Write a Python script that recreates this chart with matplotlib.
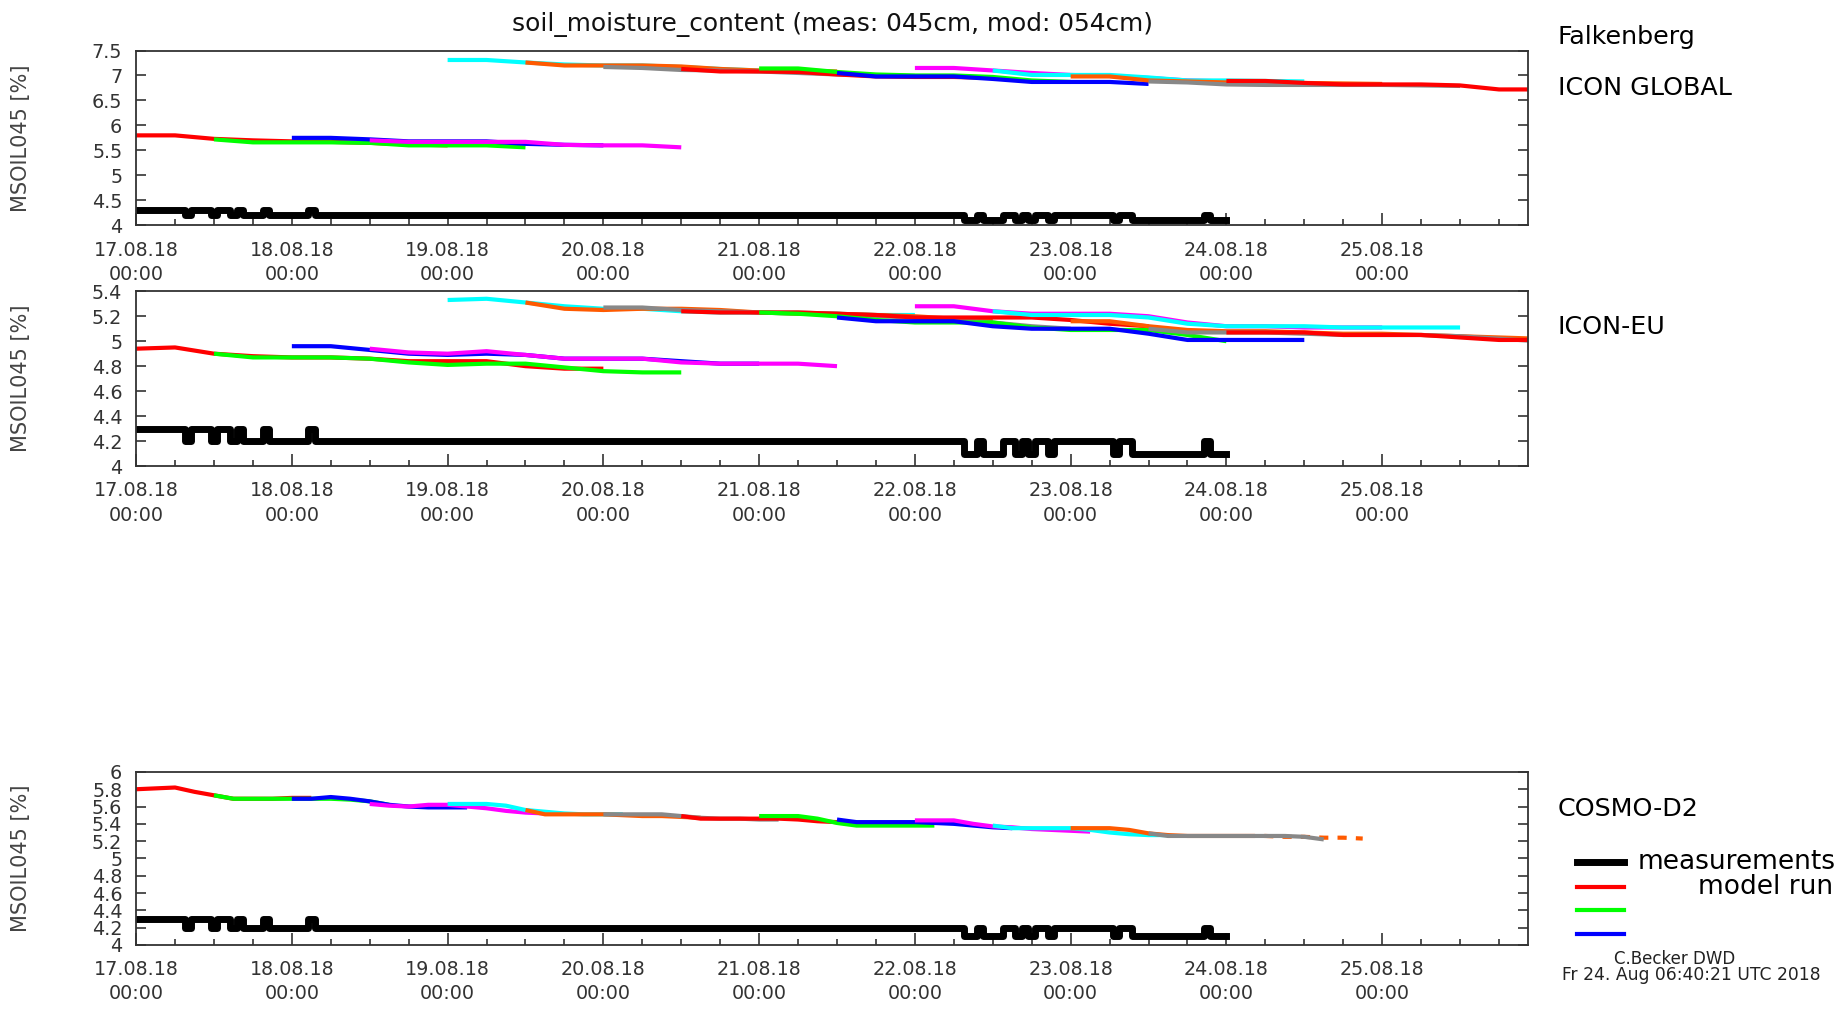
import matplotlib
matplotlib.use("Agg")
import matplotlib.pyplot as plt
from matplotlib.lines import Line2D
from matplotlib.ticker import MultipleLocator, FuncFormatter
import numpy as np
from datetime import datetime, timedelta

START = datetime(2018, 8, 17)
XMAX = 214.5  # hours after START shown on the time axis

# soil moisture measured at 45 cm, hourly values run-length encoded
meas_level = [4.3, 4.2, 4.3, 4.2, 4.3, 4.2, 4.3, 4.2, 4.3, 4.2, 4.3, 4.2,
              4.1, 4.2, 4.1, 4.2, 4.1, 4.2, 4.1, 4.2, 4.1, 4.2,
              4.1, 4.2, 4.1, 4.2, 4.1]
meas_hours = [8, 1, 3, 1, 2, 1, 1, 3, 1, 6, 1, 100,
              2, 1, 3, 2, 1, 1, 1, 2, 1, 9,
              1, 2, 11, 1, 3]

# model runs, one every 12 h; colours cycle through the run palette
run_colors = ["#ff0000", "#00ff00", "#0000ff", "#ff00ff", "#00ffff", "#ff5a00", "#888888"]

# ICON GLOBAL, 6-hourly values
glb_start = [0, 12, 24, 36, 48, 60, 72, 84, 96, 108, 120, 132, 144, 156, 168]
glb_step = 6
glb_vals = [
    [5.80, 5.80, 5.73, 5.70, 5.68, 5.67, 5.65, 5.62, 5.60],
    [5.72, 5.66, 5.66, 5.66, 5.65, 5.60, 5.60, 5.60, 5.56],
    [5.75, 5.75, 5.72, 5.68, 5.68, 5.68, 5.63, 5.61, 5.60],
    [5.70, 5.67, 5.67, 5.67, 5.67, 5.61, 5.60, 5.60, 5.56],
    [7.31, 7.31, 7.26, 7.22, 7.20, 7.20, 7.17, 7.13, 7.10],
    [7.26, 7.20, 7.20, 7.20, 7.18, 7.13, 7.10, 7.10, 7.08],
    [7.17, 7.15, 7.11, 7.10, 7.08, 7.05, 7.02, 7.00, 6.99],
    [7.13, 7.08, 7.08, 7.07, 7.02, 6.98, 6.97, 6.97, 6.95],
    [7.14, 7.14, 7.07, 7.02, 7.00, 7.00, 6.97, 6.90, 6.87],
    [7.05, 6.98, 6.98, 6.98, 6.93, 6.87, 6.87, 6.87, 6.83],
    [7.15, 7.15, 7.10, 7.05, 7.01, 6.99, 6.95, 6.90, 6.88],
    [7.10, 7.01, 7.01, 7.01, 6.96, 6.90, 6.90, 6.89, 6.88],
    [6.98, 6.98, 6.90, 6.88, 6.86, 6.85, 6.85, 6.84, 6.83],
    [6.88, 6.86, 6.82, 6.81, 6.81, 6.81, 6.81, 6.80, 6.79],
    [6.89, 6.89, 6.85, 6.82, 6.82, 6.82, 6.80, 6.72, 6.72],
]

# ICON-EU, 6-hourly values
eu_start = [0, 12, 24, 36, 48, 60, 72, 84, 96, 108, 120, 132, 144, 156, 168]
eu_step = 6
eu_vals = [
    [4.94, 4.95, 4.90, 4.88, 4.87, 4.87, 4.86, 4.84, 4.84, 4.84, 4.80, 4.78, 4.78],
    [4.90, 4.87, 4.87, 4.87, 4.86, 4.83, 4.81, 4.82, 4.82, 4.79, 4.76, 4.75, 4.75],
    [4.96, 4.96, 4.93, 4.90, 4.89, 4.90, 4.89, 4.86, 4.86, 4.86, 4.84, 4.82, 4.82],
    [4.94, 4.91, 4.90, 4.92, 4.89, 4.86, 4.86, 4.86, 4.83, 4.82, 4.82, 4.82, 4.80],
    [5.33, 5.34, 5.31, 5.28, 5.26, 5.26, 5.24, 5.23, 5.23, 5.22, 5.22, 5.21, 5.21],
    [5.31, 5.26, 5.25, 5.26, 5.26, 5.25, 5.23, 5.22, 5.22, 5.21, 5.20, 5.18, 5.17],
    [5.27, 5.27, 5.25, 5.24, 5.23, 5.23, 5.22, 5.20, 5.19, 5.17, 5.15, 5.12, 5.10],
    [5.24, 5.23, 5.23, 5.23, 5.22, 5.21, 5.19, 5.19, 5.19, 5.19, 5.17, 5.14, 5.12],
    [5.23, 5.22, 5.20, 5.17, 5.15, 5.15, 5.15, 5.11, 5.09, 5.09, 5.09, 5.05, 5.00],
    [5.19, 5.16, 5.16, 5.16, 5.12, 5.10, 5.10, 5.10, 5.06, 5.01, 5.01, 5.01, 5.01],
    [5.28, 5.28, 5.24, 5.22, 5.22, 5.22, 5.20, 5.15, 5.12, 5.12, 5.11, 5.11, 5.11],
    [5.24, 5.21, 5.21, 5.21, 5.19, 5.14, 5.12, 5.12, 5.12, 5.11, 5.11, 5.11, 5.11],
    [5.16, 5.16, 5.12, 5.09, 5.08, 5.08, 5.07, 5.06, 5.06, 5.05, 5.04, 5.03, 5.02],
    [5.10, 5.07, 5.07, 5.07, 5.06, 5.05, 5.05, 5.05, 5.04, 5.02, 5.00, 5.00, 5.00],
    [5.07, 5.07, 5.07, 5.05, 5.05, 5.05, 5.03, 5.01, 5.01, 5.01, 5.01, 5.01, 5.01],
]

# COSMO-D2, 3-hourly values (27 h runs, one long run)
cd2_start = [0, 12, 24, 36, 48, 60, 72, 84, 96, 108, 120, 132, 144, 156]
cd2_step = 3
cd2_vals = [
    [5.80, 5.81, 5.82, 5.77, 5.73, 5.69, 5.69, 5.69, 5.70, 5.70],
    [5.73, 5.69, 5.69, 5.69, 5.69, 5.69, 5.69, 5.68, 5.66, 5.62],
    [5.69, 5.69, 5.71, 5.69, 5.66, 5.62, 5.60, 5.59, 5.59, 5.59],
    [5.63, 5.61, 5.60, 5.62, 5.62, 5.60, 5.58, 5.55, 5.53, 5.52],
    [5.63, 5.63, 5.63, 5.61, 5.56, 5.54, 5.52, 5.51, 5.51, 5.51],
    [5.56, 5.51, 5.51, 5.51, 5.51, 5.50, 5.49, 5.49, 5.48, 5.47],
    [5.51, 5.51, 5.51, 5.51, 5.49, 5.47, 5.46, 5.46, 5.45, 5.45],
    [5.49, 5.46, 5.46, 5.46, 5.46, 5.46, 5.45, 5.43, 5.42, 5.41],
    [5.49, 5.49, 5.49, 5.46, 5.41, 5.38, 5.38, 5.38, 5.38, 5.38],
    [5.45, 5.42, 5.42, 5.42, 5.42, 5.41, 5.40, 5.38, 5.36, 5.35],
    [5.44, 5.44, 5.44, 5.40, 5.37, 5.36, 5.34, 5.33, 5.32, 5.31],
    [5.38, 5.35, 5.35, 5.35, 5.35, 5.33, 5.30, 5.28, 5.27, 5.27],
    [5.35, 5.35, 5.35, 5.33, 5.29, 5.27, 5.26, 5.26, 5.26, 5.26, 5.26, 5.25, 5.25, 5.24, 5.24, 5.23],
    [5.29, 5.26, 5.26, 5.26, 5.26, 5.26, 5.26, 5.26, 5.25, 5.22],
]

meas_v = np.repeat(meas_level, meas_hours)
meas_t = np.arange(len(meas_v))

plt.rcParams["font.family"] = "DejaVu Sans"

fig = plt.figure(figsize=(18.39, 10.10), dpi=100)

left, width = 0.074, 0.757
ax_glb = fig.add_axes([left, 0.777, width, 0.173])
ax_eu = fig.add_axes([left, 0.5386, width, 0.173])
ax_cd2 = fig.add_axes([left, 0.0644, width, 0.1713])

RUN_LW = 3.0
MEAS_LW = 5.0


def draw_runs(ax, starts, step, vals, dashed_after=None):
    for i, (t0, v) in enumerate(zip(starts, vals)):
        v = np.asarray(v)
        t = t0 + step * np.arange(len(v))
        c = run_colors[i % len(run_colors)]
        if dashed_after is not None and t[-1] - t0 > dashed_after:
            n = dashed_after // step + 1
            ax.plot(t[:n], v[:n], color=c, lw=RUN_LW, solid_capstyle="butt")
            ax.plot(t[n - 1:], v[n - 1:], color=c, lw=RUN_LW, ls=(0, (2.2, 2.2)))
        else:
            ax.plot(t, v, color=c, lw=RUN_LW, solid_capstyle="butt")


def time_label(h, pos):
    return (START + timedelta(hours=h)).strftime("%d.%m.%y\n%H:%M")


def style_axes(ax, ymin, ymax, ystep):
    ax.plot(meas_t, meas_v, color="black", lw=MEAS_LW, drawstyle="steps-mid")
    ax.set_xlim(0, XMAX)
    ax.set_ylim(ymin, ymax)
    ax.xaxis.set_major_locator(MultipleLocator(24))
    ax.xaxis.set_minor_locator(MultipleLocator(6))
    ax.xaxis.set_major_formatter(FuncFormatter(time_label))
    ax.yaxis.set_major_locator(MultipleLocator(ystep))
    ax.yaxis.set_major_formatter(FuncFormatter(lambda v, p: f"{v:g}"))
    ax.tick_params(axis="x", which="major", direction="in", length=9, width=1.2,
                   pad=11, labelsize=13.8, colors="#333333")
    ax.tick_params(axis="x", which="minor", direction="in", length=4.5, width=1.2,
                   colors="#333333")
    ax.tick_params(axis="y", direction="in", length=7, width=1.2, left=True, right=True,
                   pad=10, labelsize=13.8, colors="#333333")
    for lab in ax.get_xticklabels():
        lab.set_linespacing(1.35)
    for sp in ax.spines.values():
        sp.set_color("#333333")
        sp.set_linewidth(1.3)
    ax.set_ylabel("MSOIL045 [%]", fontsize=15, color="#444444")
    ax.yaxis.set_label_coords(-0.0755, 0.5)


draw_runs(ax_glb, glb_start, glb_step, glb_vals)
style_axes(ax_glb, 4, 7.5, 0.5)

draw_runs(ax_eu, eu_start, eu_step, eu_vals)
style_axes(ax_eu, 4, 5.4, 0.2)

draw_runs(ax_cd2, cd2_start, cd2_step, cd2_vals, dashed_after=27)
style_axes(ax_cd2, 4, 6, 0.2)

fig.text(0.4525, 0.976, "soil_moisture_content (meas: 045cm, mod: 054cm)",
         ha="center", va="center", fontsize=17.9, color="#111111")

fig.text(0.847, 0.963, "Falkenberg", ha="left", va="center", fontsize=18.3)
fig.text(0.847, 0.913, "ICON GLOBAL", ha="left", va="center", fontsize=18.3)
fig.text(0.847, 0.676, "ICON-EU", ha="left", va="center", fontsize=18.3)
fig.text(0.847, 0.199, "COSMO-D2", ha="left", va="center", fontsize=18.3)

# key: measurements and the first model run colours
key_y = [0.1465, 0.1222, 0.0990, 0.0757]
key_c = ["black", run_colors[0], run_colors[1], run_colors[2]]
for y, c in zip(key_y, key_c):
    fig.add_artist(Line2D([0.8577, 0.8833], [y, y], color=c,
                          lw=MEAS_LW if c == "black" else RUN_LW, transform=fig.transFigure))
fig.text(0.998, key_y[0], "measurements", ha="right", va="center", fontsize=19)
fig.text(0.9968, key_y[1], "model run", ha="right", va="center", fontsize=19)

fig.text(0.9108, 0.0505, "C.Becker DWD", ha="center", va="center", fontsize=12, color="#222222")
fig.text(0.9196, 0.0343, "Fr 24. Aug 06:40:21 UTC 2018", ha="center", va="center",
         fontsize=12.3, color="#222222")

fig.savefig("out.png", dpi=100)
